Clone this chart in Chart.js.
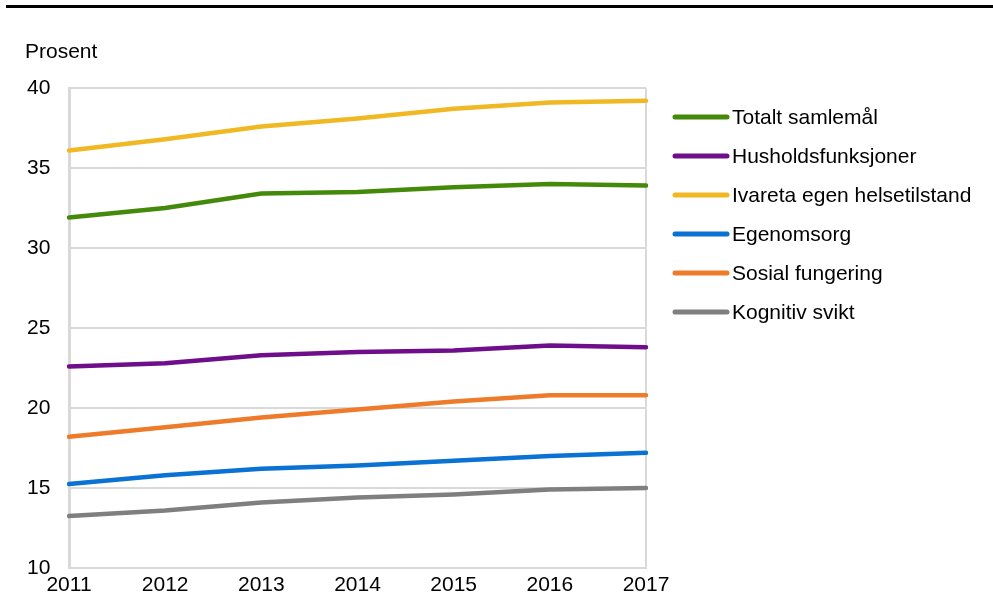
<!DOCTYPE html>
<html>
<head>
<meta charset="utf-8">
<script src="https://cdn.jsdelivr.net/npm/chart.js@4"></script>
<style>
  html, body { margin: 0; padding: 0; background: #fff; }
  #wrap { position: relative; width: 993px; height: 612px; }
</style>
</head>
<body>
<div id="wrap"><canvas id="c" width="993" height="612"></canvas></div>
<script>
// ── Data ────────────────────────────────────────────────────────────────
const years = ['2011', '2012', '2013', '2014', '2015', '2016', '2017'];

const totalt    = [31.9, 32.5, 33.4, 33.5, 33.8, 34.0, 33.9];
const hushold   = [22.6, 22.8, 23.3, 23.5, 23.6, 23.9, 23.8];
const ivareta   = [36.1, 36.8, 37.6, 38.1, 38.7, 39.1, 39.2];
const egenomsorg = [15.25, 15.8, 16.2, 16.4, 16.7, 17.0, 17.2];
const sosial    = [18.2, 18.8, 19.4, 19.9, 20.4, 20.8, 20.8];
const kognitiv  = [13.25, 13.6, 14.1, 14.4, 14.6, 14.9, 15.0];

const seriesNames = ['Totalt samlemål', 'Husholdsfunksjoner', 'Ivareta egen helsetilstand',
                     'Egenomsorg', 'Sosial fungering', 'Kognitiv svikt'];
const seriesData  = [totalt, hushold, ivareta, egenomsorg, sosial, kognitiv];
const seriesColors = ['#448A0A', '#6E0E8A', '#F0B823', '#0A72D2', '#EE7B2A', '#7F7F7F'];

const FONT = "'Liberation Sans', Arial, sans-serif";
const FONT_SIZE = 21;
const GRID = '#D9D9D9';

// ── Extras: top rule, unit label, legend ────────────────────────────────
const extras = {
  id: 'extras',
  afterDraw(chart) {
    const ctx = chart.ctx;
    ctx.save();
    ctx.fillStyle = '#000';
    ctx.fillRect(6, 5, 987, 3);

    ctx.font = `${FONT_SIZE}px ${FONT}`;
    ctx.textBaseline = 'middle';
    ctx.textAlign = 'left';
    ctx.fillText('Prosent', 25, 52);

    chart.data.datasets.forEach((ds, i) => {
      const y = 117 + i * 39;
      ctx.strokeStyle = ds.borderColor;
      ctx.lineWidth = 5;
      ctx.lineCap = 'round';
      ctx.beginPath();
      ctx.moveTo(675, y);
      ctx.lineTo(727, y);
      ctx.stroke();
      ctx.fillStyle = '#000';
      ctx.fillText(ds.label, 732, y + 1);
    });
    ctx.restore();
  }
};

new Chart(document.getElementById('c'), {
  type: 'line',
  data: {
    labels: years,
    datasets: seriesData.map((d, i) => ({
      label: seriesNames[i],
      data: d,
      borderColor: seriesColors[i],
      backgroundColor: seriesColors[i],
      borderWidth: 4.5,
      pointRadius: 0,
      tension: 0,
      borderCapStyle: 'round',
    })),
  },
  options: {
    responsive: false,
    animation: false,
    layout: { padding: { left: 27, top: 88, right: 347, bottom: 10 } },
    plugins: { legend: { display: false }, tooltip: { enabled: false } },
    scales: {
      x: {
        offset: false,
        grid: {
          color: c => (c.index === years.length - 1 ? GRID : 'transparent'),
          lineWidth: 2,
          drawTicks: false,
        },
        border: { color: GRID, width: 2 },
        ticks: { color: '#000', font: { family: FONT, size: FONT_SIZE }, padding: 5, maxRotation: 0 },
        afterFit: s => { s.height = 34; },
      },
      y: {
        min: 10, max: 40,
        grid: { color: GRID, lineWidth: 2, drawTicks: false },
        border: { color: GRID, width: 3 },
        ticks: {
          stepSize: 5, color: '#000', crossAlign: 'far',
          font: { family: FONT, size: FONT_SIZE }, padding: 8,
        },
        afterFit: s => { s.width = 42; },
      },
    },
  },
  plugins: [extras],
});
</script>
</body>
</html>
